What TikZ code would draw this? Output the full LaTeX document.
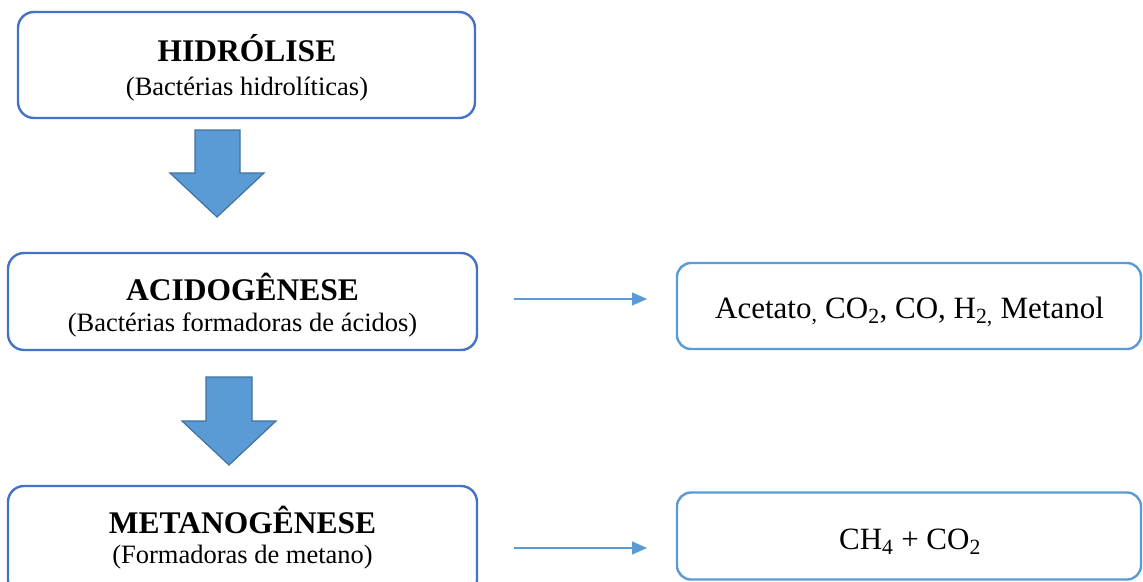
\documentclass[tikz,border=0pt]{standalone}
\usepackage{fontspec}
\setmainfont{Liberation Serif}
\usetikzlibrary{arrows.meta}
\definecolor{boxdark}{HTML}{4472C4}
\definecolor{boxlight}{HTML}{5B9BD5}
\definecolor{arrowfill}{HTML}{5B9BD5}
\definecolor{arrowline}{HTML}{41719C}
\tikzset{
  stagebox/.style={draw=boxdark, line width=2.4pt, rounded corners=16pt, fill=white, inner sep=0pt},
  prodbox/.style={draw=boxlight, line width=2.4pt, rounded corners=14pt, fill=white, inner sep=0pt},
  titletext/.style={anchor=base, inner sep=0pt, font=\fontsize{31.5}{34}\selectfont\bfseries},
  subtext/.style={anchor=base, inner sep=0pt, font=\fontsize{26.5}{30}\selectfont},
  prodtext/.style={anchor=base, inner sep=0pt, font=\fontsize{31}{34}\selectfont},
  blockarrow/.style={fill=arrowfill, draw=arrowline, line width=1.2pt, line join=miter},
  thinarrow/.style={draw=boxlight, line width=1.1pt, -{Triangle[length=15pt,width=13pt]}}
}
\begin{document}
\begin{tikzpicture}[x=1pt,y=-1pt]
\useasboundingbox (0,0) rectangle (1143,581);
\clip (0,0) rectangle (1143,581);
% stage boxes
\node[stagebox, minimum width=457pt, minimum height=106pt] (b1) at (246.5,65) {};
\node[stagebox, minimum width=469pt, minimum height=97pt] (b2) at (242.5,301.5) {};
\node[stagebox, minimum width=469pt, minimum height=110pt] (b3) at (242.5,541) {};
% product boxes
\node[prodbox, minimum width=464pt, minimum height=86pt] (p1) at (909,306) {};
\node[prodbox, minimum width=464pt, minimum height=87pt] (p2) at (909,536) {};
% texts
\node[titletext] (t1) at (247,61) {HIDRÓLISE};
\node[subtext] (s1) at (247,95) {(Bactérias hidrolíticas)};
\node[titletext] (t2) at (242.5,300) {ACIDOGÊNESE};
\node[subtext] (s2) at (242.5,331) {(Bactérias formadoras de ácidos)};
\node[titletext] (t3) at (242.5,533) {METANOGÊNESE};
\node[subtext] (s3) at (242.5,563) {(Formadoras de metano)};
\node[prodtext] (r1) at (909.5,318) {Acetato\textsubscript{,} CO\textsubscript{2}, CO, H\textsubscript{2,} Metanol};
\node[prodtext] (r2) at (910,549) {CH\textsubscript{4} + CO\textsubscript{2}};
% block arrows
\draw[blockarrow] (195,130) -- (240,130) -- (240,173) -- (264,173) -- (217,217) -- (170,173) -- (195,173) -- cycle;
\draw[blockarrow] (206,377) -- (252,377) -- (252,421) -- (276,421) -- (229,465) -- (182,421) -- (206,421) -- cycle;
% thin arrows
\coordinate (a1s) at (514,299);
\coordinate (a1e) at (647,299);
\coordinate (a2s) at (514,548);
\coordinate (a2e) at (647,548);
\draw[thinarrow] (a1s) -- (a1e);
\draw[thinarrow] (a2s) -- (a2e);
\end{tikzpicture}
\end{document}
